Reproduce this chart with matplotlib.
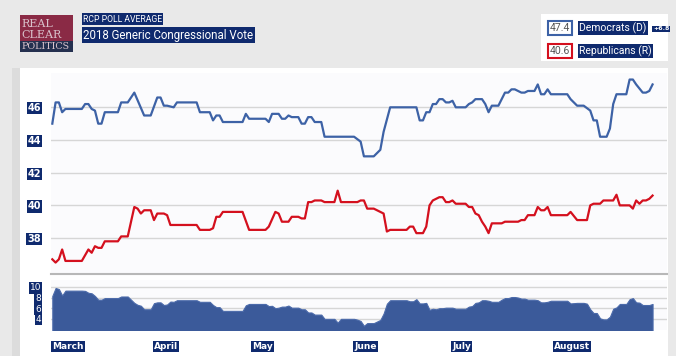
import numpy as np
import matplotlib
matplotlib.use("Agg")
import matplotlib.pyplot as plt
from matplotlib.patches import Rectangle

# day offsets from March 1, 2018 and poll average values (vertices of the step-ish lines)
dem_days = [0, 1, 2, 3, 4, 9, 10, 11, 12, 13, 14, 15, 16, 20, 21, 23, 25, 28, 30, 32,
            33, 34, 35, 37, 38, 44, 45, 48, 49, 50, 51, 52, 58, 59, 60, 65, 66, 67, 69, 70,
            71, 72, 73, 75, 76, 77, 78, 79, 80, 82, 83, 92, 94, 95, 98, 100, 101, 103, 111, 112,
            113, 114, 115, 116, 117, 118, 119, 120, 121, 122, 123, 126, 127, 128, 129, 131, 132, 133, 134, 136,
            138, 139, 140, 141, 143, 144, 145, 147, 148, 149, 150, 151, 152, 157, 158, 160, 162, 164, 165, 166,
            167, 169, 170, 171, 172, 175, 176, 177, 178, 180, 181, 182, 183]
dem_vals = [45.0, 46.3, 46.3, 45.7, 45.9, 45.9, 46.2, 46.2, 45.9, 45.8, 45.0, 45.0, 45.7, 45.7, 46.3, 46.3, 46.9, 45.5, 45.5, 46.6,
            46.6, 46.1, 46.1, 46.0, 46.3, 46.3, 45.7, 45.7, 45.2, 45.5, 45.5, 45.1, 45.1, 45.6, 45.3, 45.3, 45.1, 45.6, 45.6, 45.3,
            45.3, 45.5, 45.4, 45.4, 45.0, 45.0, 45.4, 45.4, 45.1, 45.1, 44.2, 44.2, 43.9, 43.0, 43.0, 43.4, 44.5, 46.0, 46.0, 45.2,
            45.2, 45.7, 45.7, 46.2, 46.2, 46.5, 46.5, 46.3, 46.3, 46.4, 46.0, 46.0, 46.2, 46.3, 46.5, 46.5, 46.2, 45.7, 46.1, 46.1,
            46.9, 46.9, 47.1, 47.1, 46.9, 46.9, 47.0, 47.0, 47.4, 46.8, 46.8, 47.1, 46.8, 46.8, 46.5, 46.1, 46.1, 45.8, 45.2, 45.2,
            44.2, 44.2, 44.7, 46.2, 46.8, 46.8, 47.7, 47.7, 47.4, 46.9, 46.9, 47.0, 47.4]

rep_days = [0, 1, 2, 3, 4, 9, 11, 12, 13, 14, 15, 16, 20, 21, 23, 25, 26, 27, 28, 30,
            31, 32, 34, 35, 36, 44, 45, 48, 49, 50, 51, 52, 58, 60, 65, 66, 68, 69, 70, 72,
            73, 75, 76, 77, 78, 79, 80, 82, 83, 86, 87, 88, 93, 94, 95, 96, 98, 100, 101, 102,
            103, 108, 109, 110, 111, 113, 114, 115, 116, 118, 119, 120, 121, 122, 123, 126, 127, 128, 129, 130,
            131, 132, 133, 134, 137, 138, 142, 143, 144, 145, 147, 148, 149, 150, 151, 152, 157, 158, 160, 163,
            164, 165, 167, 168, 171, 172, 173, 176, 177, 178, 179, 180, 181, 182, 183]
rep_vals = [36.7, 36.5, 36.7, 37.3, 36.6, 36.6, 37.3, 37.1, 37.5, 37.4, 37.4, 37.8, 37.8, 38.1, 38.1, 39.9, 39.8, 39.5, 39.7, 39.7,
            39.1, 39.5, 39.5, 39.4, 38.8, 38.8, 38.5, 38.5, 38.6, 39.3, 39.3, 39.6, 39.6, 38.5, 38.5, 38.7, 39.6, 39.5, 39.0, 39.0,
            39.3, 39.3, 39.2, 39.2, 40.2, 40.2, 40.3, 40.3, 40.2, 40.2, 40.9, 40.2, 40.2, 40.3, 40.3, 39.8, 39.8, 39.6, 39.5, 38.4,
            38.5, 38.5, 38.7, 38.7, 38.3, 38.3, 38.7, 40.0, 40.3, 40.5, 40.5, 40.2, 40.2, 40.3, 40.1, 40.1, 39.9, 39.9, 39.5, 39.4,
            39.0, 38.7, 38.3, 38.9, 38.9, 39.0, 39.0, 39.1, 39.1, 39.4, 39.4, 39.9, 39.7, 39.7, 39.9, 39.4, 39.4, 39.6, 39.1, 39.1,
            40.0, 40.1, 40.1, 40.3, 40.3, 40.65, 40.0, 40.0, 39.8, 40.3, 40.1, 40.3, 40.3, 40.4, 40.6]

month_days = [0, 31, 61, 92, 122, 153]
month_names = ["March", "April", "May", "June", "July", "August"]
main_ticks = [38, 40, 42, 44, 46]
spread_ticks = [4, 6, 8, 10]

DEM = "#3d62a6"
REP = "#d4101e"
NAVY = "#0f2a6e"
W, H = 676, 356


def box(x0, y0, x1, y1):
    # pixel box (top-left origin) -> figure fraction rect
    return [x0 / W, 1 - y1 / H, (x1 - x0) / W, (y1 - y0) / H]


def hl(color=NAVY):
    return dict(boxstyle="square,pad=0.12", fc=color, ec="none")


fig = plt.figure(figsize=(W / 100, H / 100), dpi=100)
fig.patch.set_facecolor("#e9e9e9")

# white chart panel and left strip
fig.patches.append(Rectangle((20 / W, 0), 648 / W, 1 - 68 / H, transform=fig.transFigure,
                             fc="white", ec="none", zorder=0))
fig.patches.append(Rectangle((12 / W, 0), 8 / W, 1 - 68 / H, transform=fig.transFigure,
                             fc="#dcdcdc", ec="none", zorder=0))

# logo
fig.patches.append(Rectangle((20 / W, 1 - 52 / H), 53 / W, 37 / H, transform=fig.transFigure,
                             fc="#8a2a45", ec="none"))
fig.patches.append(Rectangle((20 / W, 1 - 52 / H), 53 / W, 11 / H, transform=fig.transFigure,
                             fc="#24304f", ec="none"))
for txt, yy, fs in [("REAL", 24, 8), ("CLEAR", 35, 8), ("POLITICS", 46.5, 6.8)]:
    fig.text(21 / W, 1 - yy / H, txt, fontsize=fs, family="DejaVu Serif", color="#d9c3cc",
             va="center", ha="left")

# titles
fig.text(83 / W, 1 - 19 / H, "RCP POLL AVERAGE", fontsize=6.2, color="white",
         va="center", ha="left", family="Roboto", bbox=hl())
fig.text(83 / W, 1 - 35 / H, "2018 Generic Congressional Vote", fontsize=8.3, color="white",
         va="center", ha="left", family="Roboto", bbox=hl())

# legend box
fig.patches.append(Rectangle((541 / W, 1 - 61 / H), 127 / W, 47 / H, transform=fig.transFigure,
                             fc="white", ec="none"))
fig.text(560 / W, 1 - 28 / H, f"{dem_vals[-1]:.1f}", fontsize=7.5, color="#555555", va="center",
         ha="center", family="Roboto",
         bbox=dict(boxstyle="square,pad=0.2", fc="white", ec=DEM, lw=1.5))
fig.text(560 / W, 1 - 51 / H, f"{rep_vals[-1]:.1f}", fontsize=7.5, color="#555555", va="center",
         ha="center", family="Roboto",
         bbox=dict(boxstyle="square,pad=0.2", fc="white", ec=REP, lw=1.5))
fig.text(579 / W, 1 - 28 / H, "Democrats (D)", fontsize=7.5, color="white", va="center",
         ha="left", family="Roboto", bbox=hl())
fig.text(579 / W, 1 - 51 / H, "Republicans (R)", fontsize=7.5, color="white", va="center",
         ha="left", family="Roboto", bbox=hl())
fig.text(653 / W, 1 - 29 / H, f"+{dem_vals[-1] - rep_vals[-1]:.1f}", fontsize=4.5, color="white",
         va="center", ha="left", fontweight="bold", bbox=hl())

# main poll chart
ax = fig.add_axes(box(51, 73, 667, 274))
ax.set_zorder(3)
ax.set_facecolor("#fbfbfd")
ax.plot(dem_days, dem_vals, color=DEM, lw=1.6, solid_joinstyle="round")
ax.plot(rep_days, rep_vals, color=REP, lw=1.6, solid_joinstyle="round")
ax.set_xlim(-0.4, 187.4)
ax.set_ylim(35.8, 48.1)
ax.set_yticks(main_ticks)
ax.set_yticklabels([str(t) for t in main_ticks])
ax.set_xticks([])
ax.grid(axis="y", color="#d6d6d6", lw=1)
ax.set_axisbelow(True)
ax.tick_params(axis="y", length=0, pad=7, labelsize=7, labelcolor="white")
for lbl in ax.get_yticklabels():
    lbl.set_fontweight("bold")
    lbl.set_bbox(hl())
for side in ["top", "right", "left"]:
    ax.spines[side].set_visible(False)
ax.spines["bottom"].set_color("#b8b8b8")
ax.spines["bottom"].set_linewidth(1.5)

# spread chart
days = np.arange(dem_days[0], dem_days[-1] + 1)
spread = np.interp(days, dem_days, dem_vals) - np.interp(days, rep_days, rep_vals)
ax2 = fig.add_axes(box(51, 280, 667, 329.5))
ax2.set_zorder(3)
ax2.set_facecolor("#fbfbfd")
ax2.fill_between(days, 0, spread, color="#3b5a9a", lw=0.8, edgecolor="#4b6aaa")
ax2.set_xlim(-0.4, 187.4)
ax2.set_ylim(2, 11.3)
ax2.set_yticks(spread_ticks)
ax2.set_yticklabels([str(t) for t in spread_ticks])
ax2.grid(axis="y", color="#d6d6d6", lw=1)
ax2.set_axisbelow(True)
ax2.tick_params(axis="y", length=0, pad=7, labelsize=6.5, labelcolor="white")
for lbl in ax2.get_yticklabels():
    lbl.set_bbox(hl())
ax2.set_xticks(month_days)
ax2.set_xticklabels(month_names)
ax2.tick_params(axis="x", length=0, pad=9, labelsize=6.5, labelcolor="white")
for lbl in ax2.get_xticklabels():
    lbl.set_horizontalalignment("left")
    lbl.set_fontweight("bold")
    lbl.set_bbox(hl())
for side in ax2.spines:
    ax2.spines[side].set_visible(False)

fig.savefig("out.png", dpi=100, facecolor=fig.get_facecolor())
